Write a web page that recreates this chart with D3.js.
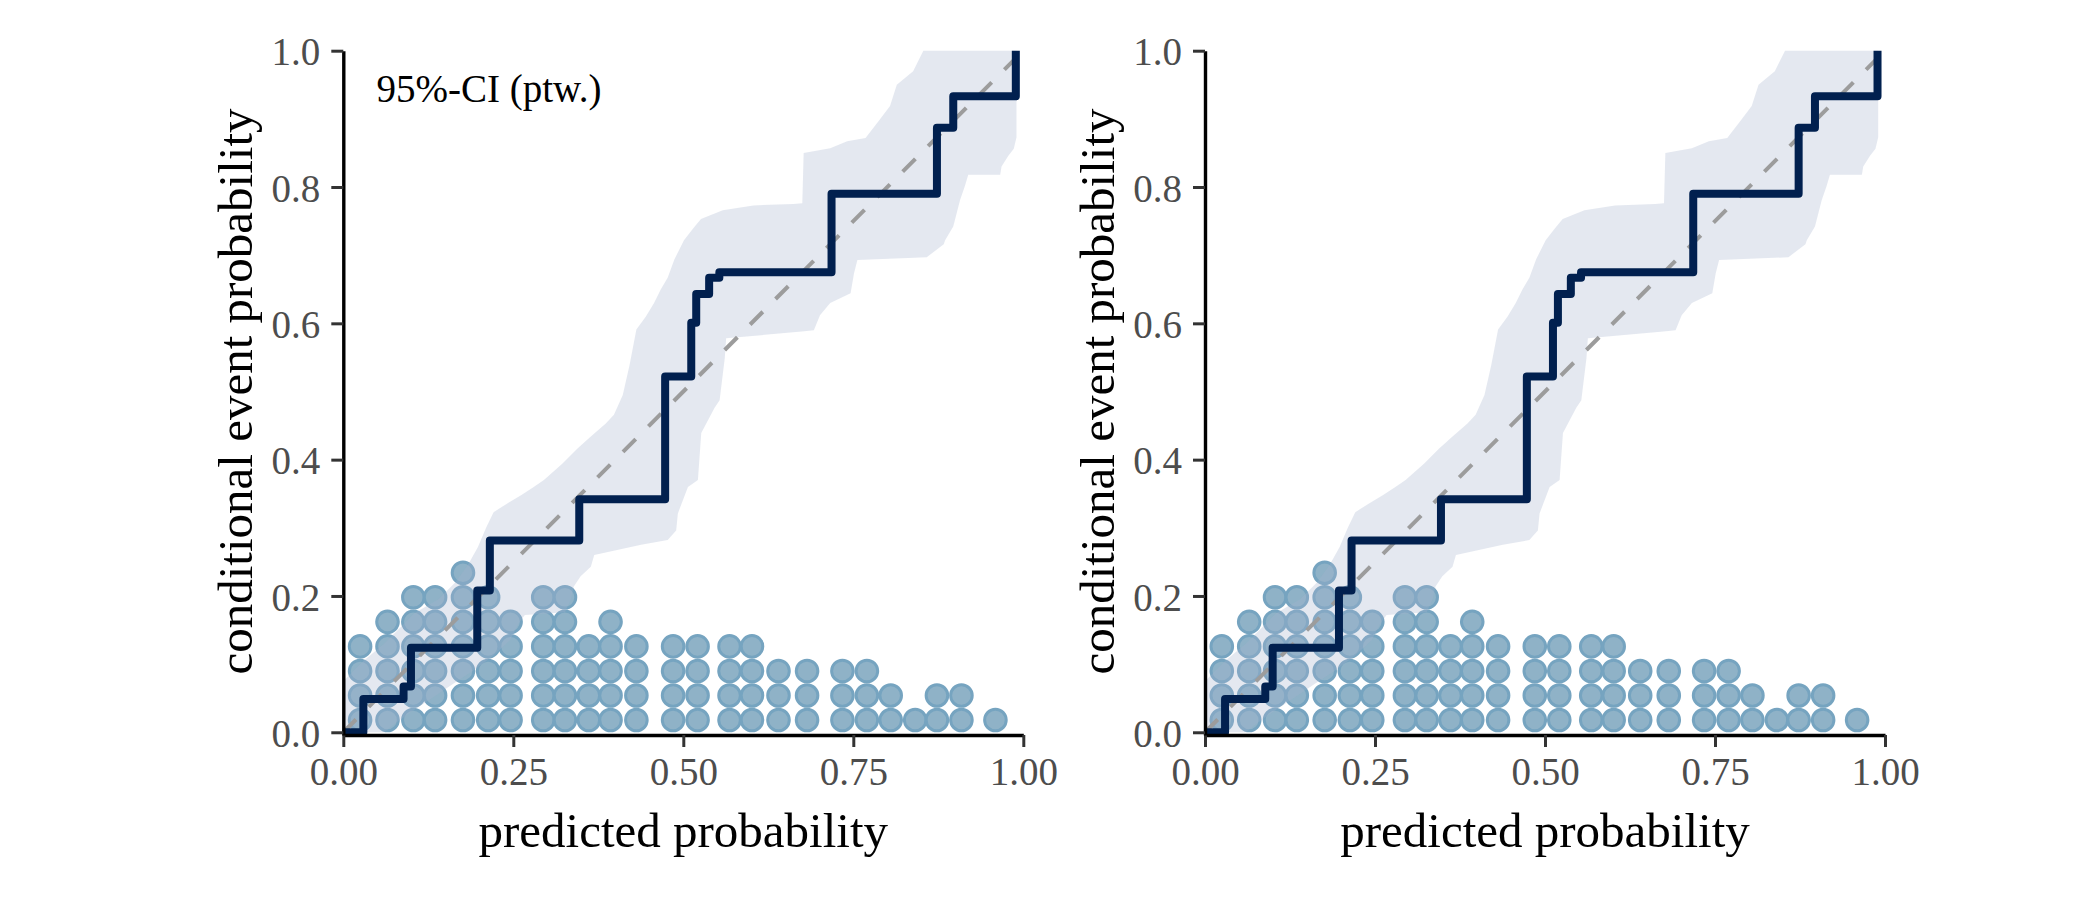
<!DOCTYPE html>
<html>
<head>
<meta charset="utf-8">
<script src="https://cdn.jsdelivr.net/npm/d3@7"></script>
<style>
  html, body { margin: 0; padding: 0; background: #ffffff; }
  svg { display: block; }
</style>
</head>
<body>
<div id="chart"></div>
<script>
// ---------------- data ----------------
const xTicks = [0, 0.25, 0.5, 0.75, 1];
const yTicks = [0, 0.2, 0.4, 0.6, 0.8, 1.0];
const xTitle = "predicted probability";
const yTitle = "conditional event probability";
const ciLabel = "95%-CI (ptw.)";

// dot plot of predicted probabilities: column positions and number of stacked dots
const dotX = [0.0247, 0.065, 0.103, 0.135, 0.176, 0.213, 0.246, 0.294, 0.326, 0.361,
              0.393, 0.431, 0.485, 0.521, 0.568, 0.601, 0.640, 0.682, 0.734, 0.770,
              0.805, 0.841, 0.873, 0.909, 0.959];
const dotCount = [4, 5, 6, 6, 7, 6, 5, 6, 6, 4,
                  5, 4, 4, 4, 4, 4, 3, 3, 3, 3,
                  2, 1, 2, 2, 1];
const dotStep = 0.036; // stacking height of one dot in y units

// step-function calibration curve
const stepX = [0, 0.0295, 0.0886, 0.0995, 0.197, 0.2155, 0.347, 0.4733, 0.5117, 0.519,
               0.538, 0.553, 0.718, 0.873, 0.897, 0.989];
const stepY = [0, 0.049, 0.067, 0.124, 0.208, 0.2815, 0.342, 0.522, 0.601, 0.643,
               0.667, 0.675, 0.790, 0.887, 0.933, 1.0];

// pointwise 95% confidence band
const hiX = [0.000, 0.030, 0.060, 0.085, 0.105, 0.140, 0.165, 0.183, 0.198, 0.210,
             0.221, 0.240, 0.262, 0.280, 0.295, 0.322, 0.344, 0.364, 0.386, 0.398,
             0.411, 0.421, 0.431, 0.445, 0.457, 0.467, 0.477, 0.487, 0.501, 0.515,
             0.526, 0.558, 0.603, 0.662, 0.675, 0.677, 0.716, 0.741, 0.768, 0.789,
             0.804, 0.814, 0.838, 0.853, 0.990];
const hiY = [0.075, 0.105, 0.130, 0.155, 0.175, 0.195, 0.220, 0.245, 0.272, 0.300,
             0.323, 0.335, 0.348, 0.360, 0.370, 0.394, 0.416, 0.434, 0.453, 0.466,
             0.495, 0.539, 0.591, 0.610, 0.630, 0.650, 0.667, 0.694, 0.722, 0.740,
             0.753, 0.766, 0.773, 0.775, 0.776, 0.850, 0.857, 0.867, 0.872, 0.899,
             0.919, 0.950, 0.970, 1.000, 1.000];
const loX = [0.000, 0.060, 0.075, 0.100, 0.130, 0.160, 0.190, 0.220, 0.245, 0.258,
             0.267, 0.326, 0.3346, 0.339, 0.349, 0.364, 0.369, 0.438, 0.477, 0.4895,
             0.492, 0.5068, 0.5215, 0.5264, 0.546, 0.5534, 0.561, 0.563, 0.674, 0.692,
             0.701, 0.716, 0.746, 0.751, 0.756, 0.858, 0.883, 0.885, 0.897, 0.907,
             0.914, 0.919, 0.966, 0.968, 0.978, 0.986, 0.990];
const loY = [0.000, 0.000, 0.012, 0.030, 0.050, 0.070, 0.090, 0.112, 0.135, 0.160,
             0.172, 0.176, 0.195, 0.214, 0.229, 0.243, 0.260, 0.275, 0.282, 0.296,
             0.321, 0.360, 0.370, 0.439, 0.476, 0.487, 0.549, 0.578, 0.588, 0.590,
             0.612, 0.630, 0.644, 0.673, 0.693, 0.697, 0.716, 0.722, 0.742, 0.781,
             0.801, 0.818, 0.818, 0.830, 0.846, 0.856, 0.873];

const diagX = [0, 1];
const diagY = [0, 1];

// ---------------- drawing ----------------
const W = 2100, H = 900;
const FONT = "'Liberation Serif', 'Times New Roman', serif";
const panelOrigins = [343.3, 1205];
const panelSize = 680;

const svg = d3.select("#chart").append("svg")
  .attr("width", W).attr("height", H)
  .attr("viewBox", `0 0 ${W} ${H}`);
svg.append("rect").attr("width", W).attr("height", H).attr("fill", "#ffffff");

panelOrigins.forEach((x0, pi) => {
  const x = d3.scaleLinear().domain([0, 1]).range([x0, x0 + panelSize]);
  const y = d3.scaleLinear().domain([-0.004, 1]).range([735, 50.7]);
  const g = svg.append("g");

  // dots
  const dots = [];
  dotX.forEach((dx, i) => {
    for (let k = 0; k < dotCount[i]; k++) dots.push({ x: dx, y: (k + 0.5) * dotStep });
  });
  g.append("g").selectAll("circle").data(dots).join("circle")
    .attr("cx", d => x(d.x))
    .attr("cy", d => y(d.y))
    .attr("r", 10.8)
    .attr("fill", "#8fb2c7")
    .attr("stroke", "#76a4c0")
    .attr("stroke-width", 3);

  // confidence band polygon
  const bandPts = hiX.map((v, i) => [v, hiY[i]])
    .concat(loX.map((v, i) => [v, loY[i]]).reverse());
  g.append("path")
    .attr("d", d3.line().x(d => x(d[0])).y(d => y(d[1]))(bandPts) + "Z")
    .attr("fill", "rgb(165,178,205)")
    .attr("fill-opacity", 0.3)
    .attr("stroke", "none");

  // diagonal reference
  g.append("path")
    .attr("d", d3.line().x(d => x(d[0])).y(d => y(d[1]))(diagX.map((v, i) => [v, diagY[i]])))
    .attr("fill", "none")
    .attr("stroke", "#9c9c9c")
    .attr("stroke-width", 4)
    .attr("stroke-dasharray", "18,18");

  // step curve
  g.append("path")
    .attr("d", d3.line().curve(d3.curveStepAfter).x(d => x(d[0])).y(d => y(d[1]))(stepX.map((v, i) => [v, stepY[i]])))
    .attr("fill", "none")
    .attr("stroke", "#01204f")
    .attr("stroke-width", 8)
    .attr("stroke-linejoin", "round");

  // axes
  const xAxis = d3.axisBottom(x).tickValues(xTicks).tickFormat(d3.format(".2f"))
    .tickSize(12).tickSizeOuter(0).tickPadding(10);
  const gx = g.append("g").attr("transform", `translate(0,${y(-0.004)})`).call(xAxis);
  const yAxis = d3.axisLeft(y).tickValues(yTicks).tickFormat(d3.format(".1f"))
    .tickSize(12).tickSizeOuter(0).tickPadding(11);
  const gy = g.append("g").attr("transform", `translate(${x(0)},0)`).call(yAxis);

  [gx, gy].forEach(ax => {
    ax.select(".domain").attr("stroke", "#000").attr("stroke-width", 3.4);
    ax.selectAll(".tick line").attr("stroke", "#333").attr("stroke-width", 3);
    ax.selectAll(".tick text")
      .attr("fill", "#4d4d4d")
      .style("font-family", FONT)
      .style("font-size", "39px");
  });
  gy.selectAll(".tick text").attr("dy", "0.36em");

  // axis titles
  g.append("text")
    .attr("x", x(0.5)).attr("y", 847)
    .attr("text-anchor", "middle")
    .style("font-family", FONT).style("font-size", "49px")
    .attr("fill", "#000")
    .text(xTitle);
  g.append("text")
    .attr("transform", `translate(${x0 - 91.3},${(y(0) + y(1)) / 2}) rotate(-90)`)
    .attr("text-anchor", "middle")
    .style("font-family", FONT).style("font-size", "49px")
    .attr("fill", "#000")
    .text(yTitle);

  if (pi === 0) {
    g.append("text")
      .attr("x", x0 + 33.2).attr("y", 101.7)
      .attr("text-anchor", "start")
      .style("font-family", FONT).style("font-size", "39px")
      .attr("fill", "#000")
      .text(ciLabel);
  }
});
</script>
</body>
</html>
